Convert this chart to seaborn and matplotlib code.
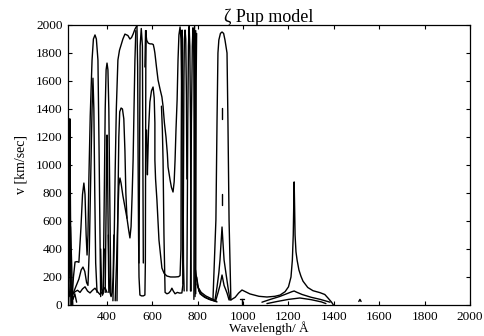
import pandas as pd
import matplotlib.pyplot as plt
import seaborn as sns

# contour traces: wavelength (A) and velocity (km/s)
spike_a_lam = [229, 233, 236, 239, 243]
spike_a_v = [0, 700, 1330, 650, 0]
spike_b_lam = [228, 232, 235, 238, 241]
spike_b_v = [0, 500, 880, 450, 0]
spike_c_lam = [231, 235, 239, 244, 249]
spike_c_v = [0, 350, 560, 300, 0]
base_left_lam = [230, 236, 242, 250, 258, 266]
base_left_v = [150, 60, 110, 40, 80, 20]

wavy_lam = [246, 259, 270, 281, 292, 303, 314, 325, 336, 347, 358, 369, 380, 391, 400]
wavy_v = [70, 95, 105, 90, 115, 130, 100, 86, 105, 120, 95, 75, 95, 125, 90]

peak347_lam = [246, 252, 259, 268, 276, 285, 292, 298, 303, 308, 312, 316, 320, 326, 334,
               340, 347, 353, 360, 365, 369, 372]
peak347_v = [40, 200, 307, 310, 305, 550, 790, 871, 790, 500, 357, 500, 900, 1350, 1750,
             1900, 1929, 1900, 1750, 1100, 500, 60]

peak338_lam = [250, 262, 276, 286, 294, 302, 310, 316, 322, 328, 334, 338, 342, 346, 350, 356]
peak338_v = [80, 129, 185, 250, 271, 240, 160, 140, 400, 900, 1400, 1620, 1400, 800, 300, 90]

peak400_lam = [383, 388, 392, 396, 400, 404, 408, 412, 417]
peak400_v = [80, 800, 1400, 1680, 1728, 1680, 1400, 800, 70]
peak400_in_lam = [392, 396, 398, 400, 402, 404, 408]
peak400_in_v = [90, 700, 1050, 1214, 1050, 700, 90]

loop410_lam = [406, 409, 413, 418, 423, 427, 430]
loop410_v = [500, 200, 90, 60, 90, 200, 500]
loop380_lam = [372, 376, 380, 384, 388]
loop380_v = [400, 120, 70, 120, 400]

broad_lam = [426, 431, 436, 441, 448, 455, 462, 470, 479, 492, 501, 508, 515, 523, 530, 536]
broad_v = [30, 400, 964, 1400, 1750, 1820, 1857, 1900, 1935, 1925, 1900, 1910, 1935, 1970,
           1990, 2000]

peak457_lam = [436, 442, 448, 452, 457, 462, 470, 479, 488, 495, 501, 506, 511, 515, 519, 523, 527]
peak457_v = [30, 300, 650, 850, 907, 870, 780, 700, 620, 540, 479, 560, 800, 1036, 1400, 1750, 1960]

bump466_lam = [444, 448, 452, 456, 462, 468, 474, 479, 483, 488]
bump466_v = [30, 700, 1200, 1380, 1407, 1400, 1330, 1100, 800, 620]

ushape_lam = [532, 535, 537, 539, 541, 545, 552, 560, 567, 569, 570, 571, 573]
ushape_v = [1990, 1700, 1050, 500, 200, 71, 65, 65, 71, 300, 1000, 1700, 1960]
loop552_lam = [541, 546, 551, 556, 560]
loop552_v = [300, 1850, 1975, 1850, 300]

plateau_lam = [567, 570, 575, 582, 590, 598, 604, 608, 611, 618, 625, 634, 642, 647, 653, 660,
               666, 669, 678, 684, 691, 696, 700, 704, 709, 713, 717, 722, 726, 729, 731, 733, 735]
plateau_v = [1700, 1960, 1890, 1870, 1865, 1865, 1860, 1830, 1800, 1700, 1607, 1540, 1486, 1420,
             1300, 1200, 1080, 986, 893, 840, 807, 880, 1036, 1250, 1464, 1750, 1929, 1986, 1900,
             1600, 1000, 400, 150]

inner603_lam = [574, 576, 578, 580, 583, 589, 596, 603, 608, 611, 611, 614, 620, 629, 642, 652,
                664, 680, 700, 715, 722, 726, 727, 729, 731, 733, 735, 737, 740]
inner603_v = [1250, 1050, 930, 1060, 1250, 1450, 1530, 1557, 1480, 1300, 1036, 900, 750, 464,
              264, 225, 207, 200, 200, 202, 210, 400, 1100, 1800, 1964, 1800, 1100, 300, 100]

low100_lam = [640, 644, 647, 651, 656, 664, 672, 680, 686, 692, 700, 710, 720, 730, 735, 737,
              739, 741, 744, 747, 750, 752]
low100_v = [1420, 1250, 1036, 500, 90, 80, 85, 100, 120, 100, 80, 90, 85, 86, 150, 900, 1600,
            1900, 1964, 1900, 1500, 900]

loop762_lam = [752, 756, 759, 762, 765, 768, 771]
loop762_v = [100, 1300, 1850, 1990, 1850, 1300, 100]
loop779_lam = [768, 772, 776, 779, 782, 785, 789]
loop779_v = [100, 1300, 1850, 1980, 1850, 1300, 100]
band1_lam = [783, 784, 785, 786]
band1_v = [40, 800, 1600, 2000]
band2_lam = [788, 789, 790, 791]
band2_v = [60, 800, 1600, 1960]
band3_lam = [791, 792, 793, 795]
band3_v = [80, 800, 1600, 1940]

fan1_lam = [790, 800, 815, 835, 860, 880]
fan1_v = [250, 130, 90, 65, 45, 30]
fan2_lam = [795, 805, 820, 840, 862, 882]
fan2_v = [200, 100, 70, 50, 35, 25]
fan3_lam = [797, 810, 830, 850, 870, 885]
fan3_v = [150, 80, 55, 40, 30, 22]

peak907_lam = [867, 873, 880, 885, 889, 893, 900, 907, 914, 920, 929, 933, 938, 946]
peak907_v = [36, 300, 607, 1321, 1800, 1893, 1940, 1950, 1940, 1893, 1800, 1321, 607, 36]
peak907_mid_lam = [876, 885, 893, 898, 903, 907, 911, 916, 924, 933, 942]
peak907_mid_v = [36, 129, 230, 321, 450, 557, 450, 321, 230, 129, 36]
peak907_in_lam = [880, 889, 898, 907, 916, 929, 938]
peak907_in_v = [36, 86, 140, 214, 140, 86, 36]
dash1_lam = [907, 907]
dash1_v = [1330, 1410]
dash2_lam = [907, 907]
dash2_v = [715, 790]

lya_lam = [946, 965, 980, 995, 1010, 1030, 1070, 1105, 1140, 1163, 1185, 1200, 1211, 1217, 1221,
           1223, 1225, 1227, 1229, 1233, 1238, 1246, 1255, 1264, 1285, 1308, 1339, 1360, 1374,
           1390, 1398]
lya_v = [36, 55, 85, 107, 95, 79, 62, 57, 62, 71, 95, 130, 200, 320, 500, 700, 879, 700, 500,
         380, 320, 250, 205, 170, 125, 102, 88, 75, 50, 20, 0]
lya_mid_lam = [1083, 1120, 1160, 1195, 1215, 1225, 1235, 1260, 1300, 1340, 1383]
lya_mid_v = [20, 40, 60, 82, 95, 100, 92, 75, 55, 40, 20]
lya_low_lam = [1105, 1150, 1200, 1250, 1300, 1345, 1365]
lya_low_v = [10, 25, 40, 50, 38, 22, 10]

tmark_h_lam = [985, 1005]
tmark_h_v = [45, 45]
tmark_v_lam = [995, 995]
tmark_v_v = [45, 5]
hat_lam = [1510, 1515, 1520]
hat_v = [25, 40, 25]

curves = [
    ("spike_a", spike_a_lam, spike_a_v), ("spike_b", spike_b_lam, spike_b_v),
    ("spike_c", spike_c_lam, spike_c_v), ("base_left", base_left_lam, base_left_v),
    ("wavy", wavy_lam, wavy_v), ("peak347", peak347_lam, peak347_v),
    ("peak338", peak338_lam, peak338_v), ("peak400", peak400_lam, peak400_v),
    ("peak400_in", peak400_in_lam, peak400_in_v), ("loop410", loop410_lam, loop410_v),
    ("loop380", loop380_lam, loop380_v), ("broad", broad_lam, broad_v),
    ("peak457", peak457_lam, peak457_v), ("bump466", bump466_lam, bump466_v),
    ("ushape", ushape_lam, ushape_v), ("loop552", loop552_lam, loop552_v),
    ("plateau", plateau_lam, plateau_v), ("inner603", inner603_lam, inner603_v),
    ("low100", low100_lam, low100_v), ("loop762", loop762_lam, loop762_v),
    ("loop779", loop779_lam, loop779_v), ("band1", band1_lam, band1_v),
    ("band2", band2_lam, band2_v), ("band3", band3_lam, band3_v),
    ("fan1", fan1_lam, fan1_v), ("fan2", fan2_lam, fan2_v), ("fan3", fan3_lam, fan3_v),
    ("peak907", peak907_lam, peak907_v), ("peak907_mid", peak907_mid_lam, peak907_mid_v),
    ("peak907_in", peak907_in_lam, peak907_in_v), ("dash1", dash1_lam, dash1_v),
    ("dash2", dash2_lam, dash2_v), ("lya", lya_lam, lya_v),
    ("lya_mid", lya_mid_lam, lya_mid_v), ("lya_low", lya_low_lam, lya_low_v),
    ("tmark_h", tmark_h_lam, tmark_h_v), ("tmark_v", tmark_v_lam, tmark_v_v),
    ("hat", hat_lam, hat_v),
]

rows = []
for name, lam, v in curves:
    for i, (x, y) in enumerate(zip(lam, v)):
        rows.append({"curve": name, "order": i, "lam": x, "v": y})
df = pd.DataFrame(rows)

sns.set_style("ticks")
plt.rcParams["font.family"] = ["Liberation Serif", "DejaVu Serif"]
plt.rcParams["text.color"] = "black"
plt.rcParams["axes.labelcolor"] = "black"

fig = plt.figure(figsize=(4.84, 3.36), dpi=100)
ax = fig.add_axes([0.1405, 0.0923, 0.8305, 0.8333])

sns.lineplot(data=df, x="lam", y="v", units="curve", estimator=None, sort=False,
             color="black", linewidth=1.0, legend=False, ax=ax)
for line in ax.lines:
    line.set_solid_joinstyle("round")

ax.set_xlim(228, 2000)
ax.set_ylim(0, 2000)
ax.set_xticks(range(400, 2001, 200))
ax.set_yticks(range(0, 2001, 200))
ax.tick_params(direction="in", top=True, right=True, length=3, width=0.8,
               labelsize=9.5, colors="black", pad=4)
for s in ax.spines.values():
    s.set_linewidth(0.9)
    s.set_color("black")

ax.set_title("ζ Pup model", fontsize=13, pad=2)
ax.set_xlabel("Wavelength/ Å", fontsize=9.5, labelpad=-1)
ax.set_ylabel("v [km/sec]", fontsize=10, labelpad=6)

fig.savefig("out.png", dpi=100)
